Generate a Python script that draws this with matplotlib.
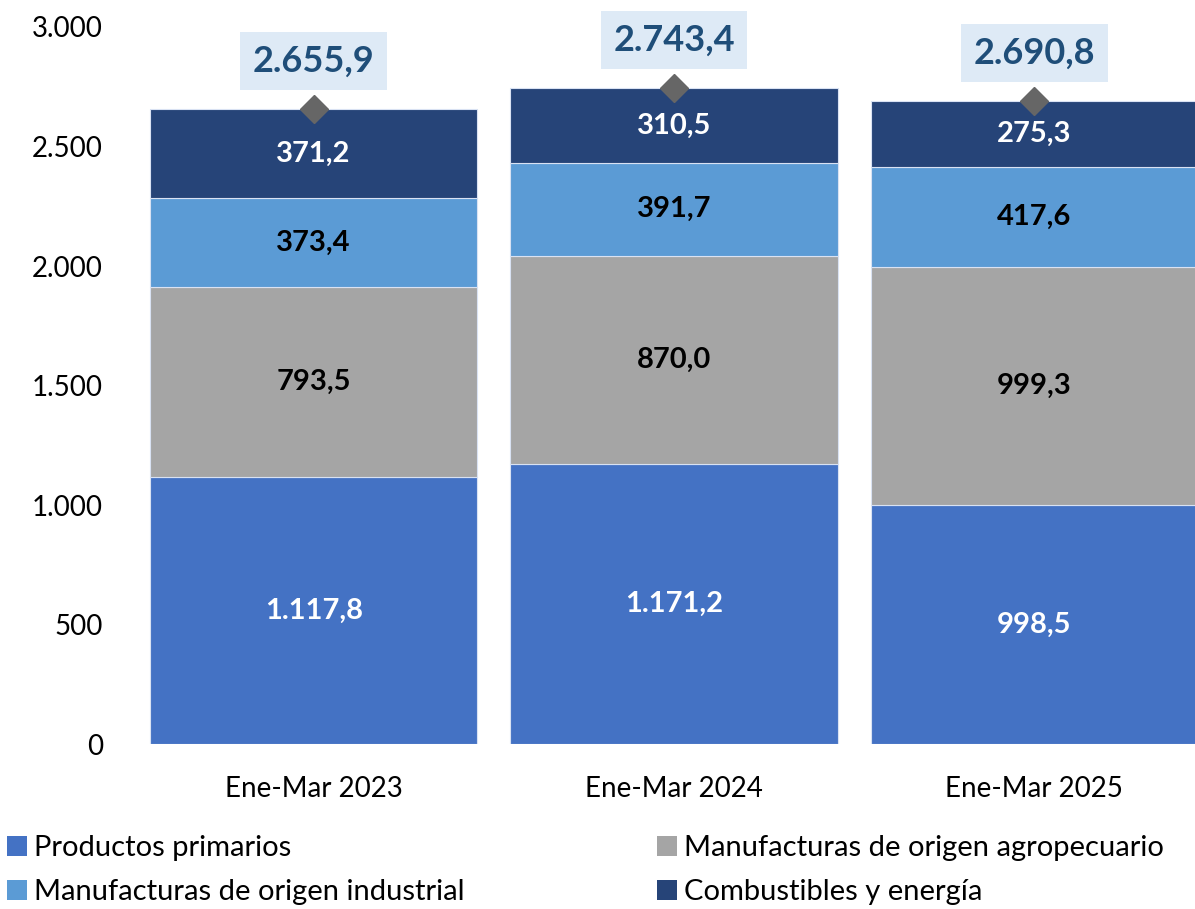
import numpy as np
import matplotlib.pyplot as plt
from matplotlib.patches import Patch

plt.rcParams['font.family'] = ['Lato', 'DejaVu Sans']

# datos
periodos = ['Ene-Mar 2023', 'Ene-Mar 2024', 'Ene-Mar 2025']
series = ['Productos primarios', 'Manufacturas de origen agropecuario',
          'Manufacturas de origen industrial', 'Combustibles y energía']
primarios = [1117.8, 1171.2, 998.5]
moa = [793.5, 870.0, 999.3]
moi = [373.4, 391.7, 417.6]
combustibles = [371.2, 310.5, 275.3]
totales = [2655.9, 2743.4, 2690.8]

colores = ['#4472C4', '#A5A5A5', '#5B9BD5', '#264478']
color_texto = ['white', 'black', 'black', 'white']

def fmt(v):
    s = f'{v:,.1f}'
    return s.replace(',', 'X').replace('.', ',').replace('X', '.')

fig = plt.figure(figsize=(11.95, 9.09), dpi=100)
ax = fig.add_axes([0.1117, 0.1815, 0.9046, 0.7888])

x = np.arange(len(periodos))
base = np.zeros(len(periodos))
for vals, col, tc in zip([primarios, moa, moi, combustibles], colores, color_texto):
    vals = np.array(vals)
    ax.bar(x, vals, bottom=base, width=0.908, color=col, edgecolor='#D9E2F3', linewidth=0.8)
    for xi, b, v in zip(x, base, vals):
        ax.text(xi, b + v / 2, fmt(v), ha='center', va='center', color=tc,
                fontsize=21, fontweight='bold')
    base = base + vals

ax.plot(x, totales, linestyle='none', marker='D', markersize=14, color='#666666', zorder=5,
        clip_on=False)
for xi, t in zip(x, totales):
    ax.annotate(fmt(t), (xi, t), xytext=(0, 48), textcoords='offset pixels',
                ha='center', va='center', fontsize=26, fontweight='bold', color='#1F4E79',
                bbox=dict(boxstyle='square,pad=0.35', facecolor='#DEEAF6', edgecolor='none'))

ax.set_xlim(-0.5, 2.5)
ax.set_ylim(0, 3000)
ax.set_yticks(np.arange(0, 3001, 500))
ax.set_yticklabels([fmt(v)[:-2] if v else '0' for v in np.arange(0, 3001, 500)])
ax.set_xticks(x)
ax.set_xticklabels(periodos)
ax.tick_params(axis='both', length=0, labelsize=20, colors='black')
ax.tick_params(axis='y', pad=22)
ax.tick_params(axis='x', pad=23)
for s in ax.spines.values():
    s.set_visible(False)

# leyenda en dos columnas, ordenada por filas
handles = [Patch(facecolor=c) for c in colores]
opts = dict(loc='upper left', frameon=False, fontsize=21, handlelength=0.68,
            handleheight=0.68, handletextpad=0.25, labelspacing=0.6,
            borderpad=0, borderaxespad=0)
fig.legend([handles[0], handles[2]], [series[0], series[2]],
           bbox_to_anchor=(0.006, 0.081), **opts)
fig.legend([handles[1], handles[3]], [series[1], series[3]],
           bbox_to_anchor=(0.550, 0.081), **opts)

fig.savefig('out.png', dpi=100)
